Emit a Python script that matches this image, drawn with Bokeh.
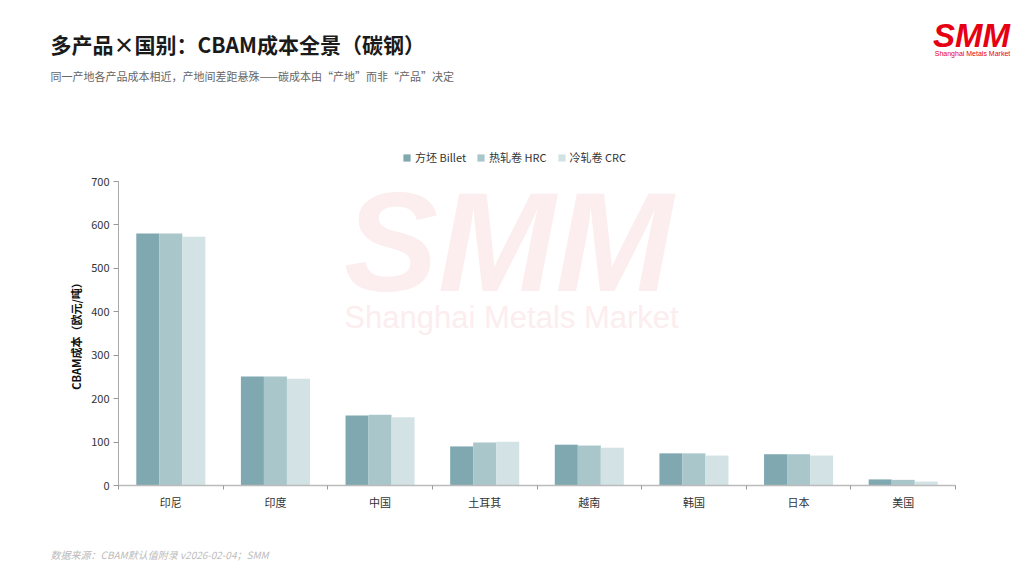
from bokeh.plotting import figure
from bokeh.models import (ColumnDataSource, Range1d, FixedTicker, Label, Legend, LegendItem)
from bokeh.transform import dodge
from bokeh.embed import file_html
from bokeh.resources import INLINE

countries = ["印尼", "印度", "中国", "土耳其", "越南", "韩国", "日本", "美国"]
billet = [580, 251, 161, 90, 94, 74, 72, 14]
hrc = [580, 251, 163, 99, 92, 74, 72, 13]
crc = [573, 246, 157, 101, 87, 69, 69, 9]
series_names = ["方坯 Billet", "热轧卷 HRC", "冷轧卷 CRC"]
colors = ["#7fa8b0", "#a9c6cb", "#d3e2e5"]
y_ticks = [0, 100, 200, 300, 400, 500, 600, 700]
y_max = 700

CJK = "Noto Sans CJK SC"

# layout (pixels on the page)
W, H = 1016, 568
left, right, top, bottom = 118, 955, 181, 485
n = len(countries)
ppx = (right - left) / n          # pixels per category
ppy = (bottom - top) / y_max       # pixels per unit

def sy(page_y):
    return H - page_y

def base(page_y, size):
    # compensate the renderer's baseline offset
    return sy(page_y - 0.333 * size)

xc = [i + 0.5 for i in range(n)]
src = ColumnDataSource(dict(x=xc, billet=billet, hrc=hrc, crc=crc))

p = figure(width=W, height=H, output_backend="svg", toolbar_location=None,
           x_range=Range1d(-left / ppx, (W - left) / ppx),
           y_range=Range1d(-(H - bottom) / ppy, bottom / ppy),
           min_border=0)
p.outline_line_color = None
p.xgrid.visible = False
p.ygrid.visible = False
p.background_fill_color = "white"
p.border_fill_color = "white"

# watermark
p.add_layout(Label(x=508, y=base(288, 141), x_units="screen", y_units="screen", text="SMM",
                   text_font="Liberation Sans", text_font_size="141px", text_font_style="bold italic",
                   text_color="#fcedef", text_align="center", text_baseline="alphabetic"))
p.add_layout(Label(x=511, y=base(327, 31), x_units="screen", y_units="screen", text="Shanghai Metals Market",
                   text_font="Liberation Sans", text_font_size="31px",
                   text_color="#fcedef", text_align="center", text_baseline="alphabetic"))

w = 0.22
r1 = p.vbar(x=dodge("x", -w, range=p.x_range), top="billet", width=w, source=src,
            fill_color=colors[0], line_color=None)
r2 = p.vbar(x=dodge("x", 0, range=p.x_range), top="hrc", width=w, source=src,
            fill_color=colors[1], line_color=None)
r3 = p.vbar(x=dodge("x", w, range=p.x_range), top="crc", width=w, source=src,
            fill_color=colors[2], line_color=None)

legend = Legend(items=[LegendItem(label=series_names[0], renderers=[r1]),
                       LegendItem(label=series_names[1], renderers=[r2]),
                       LegendItem(label=series_names[2], renderers=[r3])],
                orientation="horizontal", location=(402, sy(165)))
legend.glyph_width = 9
legend.glyph_height = 9
legend.label_standoff = 4
legend.spacing = 10
legend.padding = 0
legend.margin = 0
legend.border_line_color = None
legend.background_fill_alpha = 0
legend.label_text_font = CJK
legend.label_text_font_size = "11px"
legend.label_text_color = "#333333"
legend.label_height = 14
legend.label_text_baseline = "middle"
p.add_layout(legend, "center")

# x axis
xa = p.xaxis[0]
xa.fixed_location = 0
xa.bounds = (0, n)
xa.ticker = FixedTicker(ticks=xc, minor_ticks=list(range(n + 1)))
xa.major_label_overrides = {v: c for v, c in zip(xc, countries)}
xa.major_tick_line_color = None
xa.major_tick_out = 4
xa.major_tick_in = 0
xa.minor_tick_line_color = "#999999"
xa.minor_tick_out = 4
xa.minor_tick_in = 0
xa.axis_line_color = "#bbbbbb"
xa.axis_line_width = 1.5
xa.major_label_text_font = CJK
xa.major_label_text_font_size = "11px"
xa.major_label_text_color = "#333333"
xa.major_label_standoff = 4

ya = p.yaxis[0]
ya.fixed_location = 0
ya.bounds = (0, y_max)
ya.ticker = FixedTicker(ticks=y_ticks)
ya.minor_tick_line_color = None
ya.major_tick_out = 5
ya.major_tick_in = 0
ya.major_tick_line_color = "#999999"
ya.axis_line_color = "#aaaaaa"
ya.major_label_text_font = CJK
ya.major_label_text_font_size = "11px"
ya.major_label_text_color = "#333333"
ya.major_label_standoff = 4
ya.axis_label = "CBAM成本（欧元/吨）"
ya.axis_label_text_font = CJK
ya.axis_label_text_font_size = "11px"
ya.axis_label_text_font_style = "bold"
ya.axis_label_text_color = "#111111"
ya.axis_label_standoff = 4

# titles
p.add_layout(Label(x=50, y=sy(43), x_units="screen", y_units="screen",
                   text="多产品×国别：CBAM成本全景（碳钢）", text_font=CJK,
                   text_font_size="21px", text_font_style="bold", text_color="#1a1a1a",
                   text_baseline="middle"))
p.add_layout(Label(x=50, y=sy(75), x_units="screen", y_units="screen",
                   text="同一产地各产品成本相近，产地间差距悬殊——碳成本由“产地”而非“产品”决定",
                   text_font=CJK, text_font_size="11px", text_color="#666666",
                   text_baseline="middle"))
p.add_layout(Label(x=50, y=sy(554), x_units="screen", y_units="screen",
                   text="数据来源：CBAM默认值附录 v2026-02-04；SMM", text_font=CJK,
                   text_font_size="10px", text_font_style="italic", text_color="#bbbbbb",
                   text_baseline="middle"))
# logo
p.add_layout(Label(x=971, y=base(46, 33), x_units="screen", y_units="screen", text="SMM",
                   text_font="Liberation Sans", text_font_size="33px", text_font_style="bold italic",
                   text_color="#e60012", text_align="center", text_baseline="alphabetic"))
p.add_layout(Label(x=972, y=base(55, 7), x_units="screen", y_units="screen", text="Shanghai Metals Market",
                   text_font="Liberation Sans", text_font_size="7px",
                   text_color="#e60012", text_align="center", text_baseline="alphabetic"))

open("out.html", "w").write(file_html(p, INLINE))
